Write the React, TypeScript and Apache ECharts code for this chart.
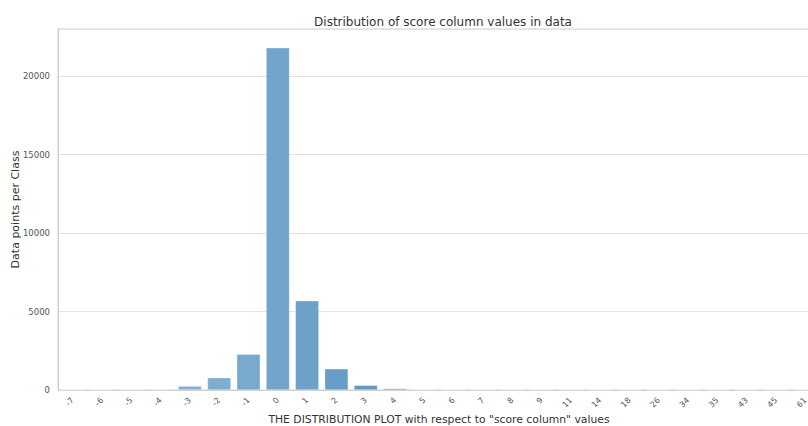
import React, { useEffect, useRef } from "react";
import * as echarts from "echarts";

const categories = ["-7", "-6", "-5", "-4", "-3", "-2", "-1", "0", "1", "2", "3", "4", "5", "6", "7", "8", "9", "11", "14", "18", "26", "34", "35", "43", "45", "61"];
const counts = [5, 8, 15, 40, 250, 780, 2280, 21800, 5680, 1350, 300, 90, 30, 12, 6, 4, 3, 2, 1, 1, 1, 1, 1, 1, 1, 1];
const yTicks = [0, 5000, 10000, 15000, 20000];

function hexToRgb(h: string) {
  const n = parseInt(h.slice(1), 16);
  return [(n >> 16) & 255, (n >> 8) & 255, n & 255];
}
function mix(a: string, b: string, t: number) {
  const A = hexToRgb(a), B = hexToRgb(b);
  const c = A.map((v, i) => Math.round(v + (B[i] - v) * t));
  return "rgb(" + c.join(",") + ")";
}
function paletteColor(i: number, n: number) {
  const stops = ["#9dc0dc", "#5290bd", "#333333"];
  const t = i / (n - 1);
  if (t <= 0.5) return mix(stops[0], stops[1], t / 0.5);
  return mix(stops[1], stops[2], (t - 0.5) / 0.5);
}

export default function App() {
  const ref = useRef<HTMLDivElement>(null);
  useEffect(() => {
    if (!ref.current) return;
    const chart = echarts.init(ref.current, null, { renderer: "svg" });
    const font = "DejaVu Sans";
    chart.setOption({
      animation: false,
      backgroundColor: "#ffffff",
      textStyle: { fontFamily: font },
      title: {
        text: "Distribution of score column values in data",
        left: 438,
        textAlign: "center",
        top: 11,
        textStyle: { fontSize: 12, fontWeight: "normal", color: "#333333", fontFamily: font },
      },
      grid: {
        left: 58,
        top: 29,
        width: 762,
        height: 361,
        containLabel: false,
        outerBoundsMode: "none",
        show: true,
        borderColor: "#d0d0d0",
        borderWidth: 1,
        backgroundColor: "transparent",
      },
      xAxis: {
        type: "category",
        data: categories,
        boundaryGap: true,
        axisTick: { show: false },
        axisLine: { show: true, lineStyle: { color: "#d0d0d0", width: 1 } },
        axisLabel: { rotate: 45, fontSize: 8, color: "#555555", margin: 9, interval: 0, fontFamily: font },
        name: 'THE DISTRIBUTION PLOT with respect to "score column" values',
        nameLocation: "middle",
        nameGap: 23,
        nameMoveOverlap: false,
        nameTextStyle: { fontSize: 10.8, lineHeight: 12, color: "#333333", fontFamily: font },
      },
      yAxis: {
        type: "value",
        min: 0,
        max: 23000,
        interval: 5000,
        axisLine: { show: true, lineStyle: { color: "#d0d0d0" } },
        axisTick: { show: false },
        splitLine: { show: true, lineStyle: { color: "#e2e2e2", width: 1 } },
        axisLabel: {
          fontSize: 8.5,
          color: "#555555",
          margin: 8,
          showMaxLabel: false,
          fontFamily: font,
          formatter: (v: number) => (yTicks.includes(v) ? String(v) : ""),
        },
        name: "Data points per Class",
        nameLocation: "middle",
        nameGap: 37,
        nameMoveOverlap: false,
        nameTextStyle: { fontSize: 11, color: "#333333", fontFamily: font },
      },
      series: [
        {
          type: "bar",
          barWidth: "80%",
          data: counts.map((v, i) => ({
            value: v,
            itemStyle: { color: paletteColor(i, counts.length), borderColor: "rgba(255,255,255,0.6)", borderWidth: 0.5 },
          })),
        },
      ],
    });
    return () => chart.dispose();
  }, []);
  return <div ref={ref} style={{ position: "fixed", left: 0, top: 0, width: 808, height: 426 }} />;
}
